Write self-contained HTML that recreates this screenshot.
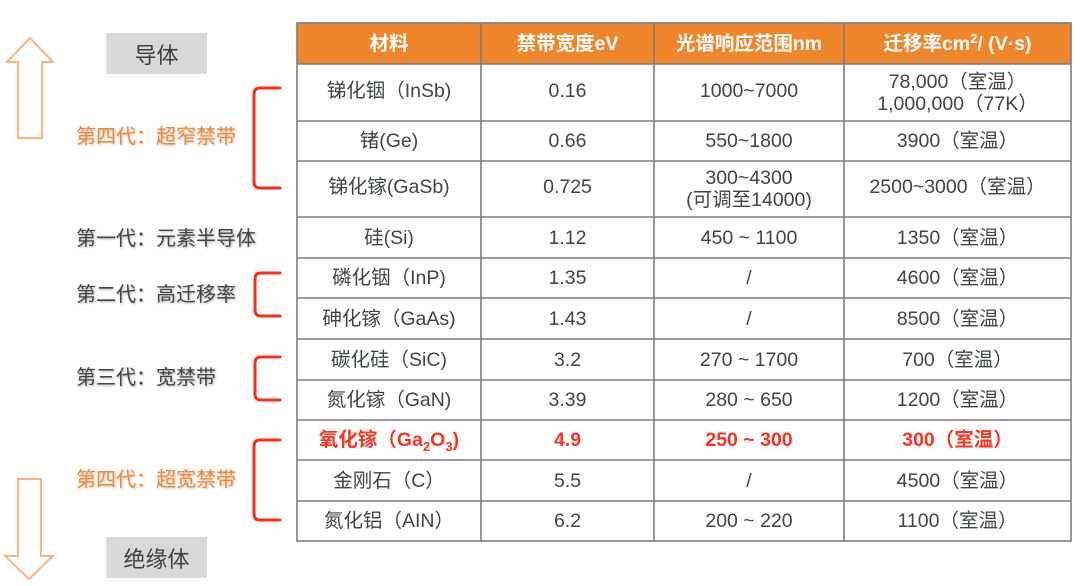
<!DOCTYPE html>
<html><head><meta charset="utf-8">
<style>
html,body{margin:0;padding:0;background:#fff;}
body{width:1080px;height:586px;position:relative;overflow:hidden;font-family:"Liberation Sans","Noto Sans CJK SC",sans-serif;}
.c{position:absolute;display:flex;align-items:center;justify-content:center;text-align:center;font-size:19.5px;line-height:22px;color:#3e4545;}
.h{background:#f0862b;color:#fff;font-weight:bold;}
.r{color:#fb3220;font-weight:bold;}
.lab{position:absolute;left:76px;font-size:20px;line-height:24px;color:#404545;text-shadow:1px 1px 2px rgba(0,0,0,0.35);white-space:nowrap;}
.or{color:#ec8a3c;text-shadow:1px 1px 2px rgba(120,60,0,0.35);}
.box{position:absolute;left:106px;width:101px;height:41px;background:#d9d9d9;color:#404040;font-size:22px;display:flex;align-items:center;justify-content:center;}
sub{font-size:13px;vertical-align:-5px;line-height:0;}
sup{font-size:13px;vertical-align:7px;line-height:0;}
</style></head><body>

<!-- header cells -->
<div class="c h" style="left:297px;top:23px;width:184px;height:41px;">材料</div>
<div class="c h" style="left:481px;top:23px;width:173px;height:41px;">禁带宽度eV</div>
<div class="c h" style="left:654px;top:23px;width:190px;height:41px;">光谱响应范围nm</div>
<div class="c h" style="left:844px;top:23px;width:227px;height:41px;"><span>迁移率cm<sup>2</sup>/ (V·s)</span></div>

<!-- row 1 -->
<div class="c" style="left:297px;top:62px;width:184px;height:57px;">锑化铟（InSb)</div>
<div class="c" style="left:481px;top:62px;width:173px;height:57px;">0.16</div>
<div class="c" style="left:654px;top:62px;width:190px;height:57px;">1000~7000</div>
<div class="c" style="left:844px;top:64px;width:227px;height:57px;"><span>78,000（室温）<br>1,000,000（77K）</span></div>
<!-- row 2 -->
<div class="c" style="left:297px;top:121px;width:184px;height:40px;">锗(Ge)</div>
<div class="c" style="left:481px;top:121px;width:173px;height:40px;">0.66</div>
<div class="c" style="left:654px;top:121px;width:190px;height:40px;">550~1800</div>
<div class="c" style="left:844px;top:121px;width:227px;height:40px;">3900（室温）</div>
<!-- row 3 -->
<div class="c" style="left:297px;top:159px;width:184px;height:56px;">锑化镓(GaSb)</div>
<div class="c" style="left:481px;top:159px;width:173px;height:56px;">0.725</div>
<div class="c" style="left:654px;top:161px;width:190px;height:56px;"><span>300~4300<br>(可调至14000)</span></div>
<div class="c" style="left:844px;top:159px;width:227px;height:56px;">2500~3000（室温）</div>
<!-- row 4 -->
<div class="c" style="left:297px;top:217px;width:184px;height:41px;">硅(Si)</div>
<div class="c" style="left:481px;top:217px;width:173px;height:41px;">1.12</div>
<div class="c" style="left:654px;top:217px;width:190px;height:41px;">450 ~ 1100</div>
<div class="c" style="left:844px;top:217px;width:227px;height:41px;">1350（室温）</div>
<!-- row 5 -->
<div class="c" style="left:297px;top:258px;width:184px;height:40px;">磷化铟（InP)</div>
<div class="c" style="left:481px;top:258px;width:173px;height:40px;">1.35</div>
<div class="c" style="left:654px;top:258px;width:190px;height:40px;">/</div>
<div class="c" style="left:844px;top:258px;width:227px;height:40px;">4600（室温）</div>
<!-- row 6 -->
<div class="c" style="left:297px;top:298px;width:184px;height:41px;">砷化镓（GaAs)</div>
<div class="c" style="left:481px;top:298px;width:173px;height:41px;">1.43</div>
<div class="c" style="left:654px;top:298px;width:190px;height:41px;">/</div>
<div class="c" style="left:844px;top:298px;width:227px;height:41px;">8500（室温）</div>
<!-- row 7 -->
<div class="c" style="left:297px;top:339px;width:184px;height:41px;">碳化硅（SiC)</div>
<div class="c" style="left:481px;top:339px;width:173px;height:41px;">3.2</div>
<div class="c" style="left:654px;top:339px;width:190px;height:41px;">270 ~ 1700</div>
<div class="c" style="left:844px;top:339px;width:227px;height:41px;">700（室温）</div>
<!-- row 8 -->
<div class="c" style="left:297px;top:380px;width:184px;height:40px;">氮化镓（GaN)</div>
<div class="c" style="left:481px;top:380px;width:173px;height:40px;">3.39</div>
<div class="c" style="left:654px;top:380px;width:190px;height:40px;">280 ~ 650</div>
<div class="c" style="left:844px;top:380px;width:227px;height:40px;">1200（室温）</div>
<!-- row 9 red -->
<div class="c r" style="left:297px;top:420px;width:184px;height:40px;"><span>氧化镓（Ga<sub>2</sub>O<sub>3</sub>)</span></div>
<div class="c r" style="left:481px;top:420px;width:173px;height:40px;">4.9</div>
<div class="c r" style="left:654px;top:420px;width:190px;height:40px;">250 ~ 300</div>
<div class="c r" style="left:844px;top:420px;width:227px;height:40px;">300（室温）</div>
<!-- row 10 -->
<div class="c" style="left:297px;top:460px;width:184px;height:41px;">金刚石（C）</div>
<div class="c" style="left:481px;top:460px;width:173px;height:41px;">5.5</div>
<div class="c" style="left:654px;top:460px;width:190px;height:41px;">/</div>
<div class="c" style="left:844px;top:460px;width:227px;height:41px;">4500（室温）</div>
<!-- row 11 -->
<div class="c" style="left:297px;top:501px;width:184px;height:40px;">氮化铝（AIN）</div>
<div class="c" style="left:481px;top:501px;width:173px;height:40px;">6.2</div>
<div class="c" style="left:654px;top:501px;width:190px;height:40px;">200 ~ 220</div>
<div class="c" style="left:844px;top:501px;width:227px;height:40px;">1100（室温）</div>

<svg width="1080" height="586" style="position:absolute;left:0;top:0;" xmlns="http://www.w3.org/2000/svg">
  <g stroke="#7d7d7d" stroke-width="1.6" fill="none">
    <rect x="297" y="23" width="774" height="518"/>
    <line x1="481" y1="23" x2="481" y2="541"/>
    <line x1="654" y1="23" x2="654" y2="541"/>
    <line x1="844" y1="23" x2="844" y2="541"/>
    <line x1="297" y1="64" x2="1071" y2="64"/>
    <line x1="297" y1="121" x2="1071" y2="121"/>
    <line x1="297" y1="161" x2="1071" y2="161"/>
    <line x1="297" y1="217" x2="1071" y2="217"/>
    <line x1="297" y1="258" x2="1071" y2="258"/>
    <line x1="297" y1="298" x2="1071" y2="298"/>
    <line x1="297" y1="339" x2="1071" y2="339"/>
    <line x1="297" y1="380" x2="1071" y2="380"/>
    <line x1="297" y1="420" x2="1071" y2="420"/>
    <line x1="297" y1="460" x2="1071" y2="460"/>
    <line x1="297" y1="501" x2="1071" y2="501"/>
  </g>
  <!-- arrows -->
  <g stroke="#f8b585" stroke-width="2" fill="#fff" stroke-linejoin="miter">
    <polygon points="30,38 53,62 42,62 42,138 18,138 18,62 7,62"/>
    <polygon points="18,479 41,479 41,556 53,556 29,579 5,556 18,556"/>
  </g>
  <!-- brackets -->
  <g stroke="#fa2d1a" stroke-width="3" fill="none" stroke-linecap="round">
    <path d="M280,88 H260 Q254,88 254,94 V182 Q254,188 260,188 H280"/>
    <path d="M280,273 H261 Q255,273 255,279 V310 Q255,316 261,316 H280"/>
    <path d="M280,357 H261 Q255,357 255,363 V394 Q255,400 261,400 H280"/>
    <path d="M280,440 H260 Q254,440 254,446 V514 Q254,520 260,520 H280"/>
  </g>
</svg>

<div class="box" style="top:33px;">导体</div>
<div class="box" style="top:537px;">绝缘体</div>

<div class="lab or" style="top:125px;">第四代：超窄禁带</div>
<div class="lab" style="top:227px;">第一代：元素半导体</div>
<div class="lab" style="top:283px;">第二代：高迁移率</div>
<div class="lab" style="top:366px;">第三代：宽禁带</div>
<div class="lab or" style="top:468px;">第四代：超宽禁带</div>

</body></html>
